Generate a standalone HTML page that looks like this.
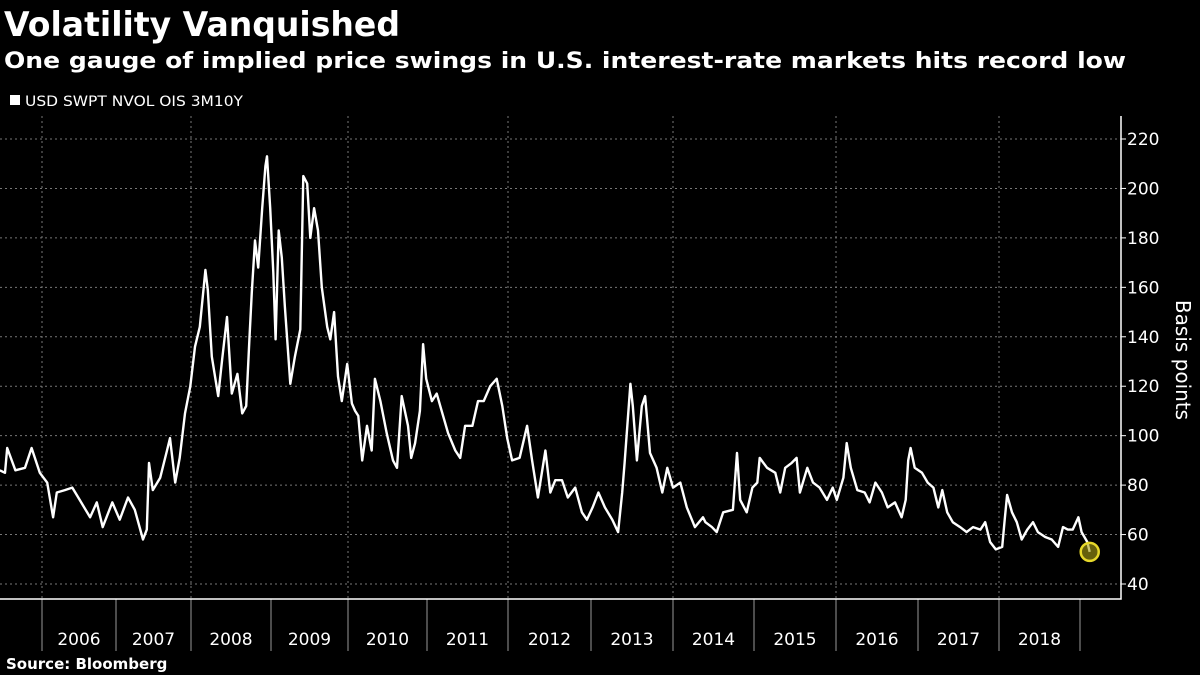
<!DOCTYPE html>
<html><head><meta charset="utf-8"><style>
html,body{margin:0;padding:0;background:#000;}
svg{display:block;}
text{font-family:"DejaVu Sans","Liberation Sans",sans-serif;fill:#fff;}
</style></head><body>
<svg id="chart" width="1200" height="675" viewBox="0 0 1200 675">
<rect x="0" y="0" width="1200" height="675" fill="#000"/>
<text x="4" y="36" font-size="34" font-weight="bold" textLength="396" lengthAdjust="spacingAndGlyphs">Volatility Vanquished</text>
<text x="4" y="68" font-size="22" font-weight="bold" textLength="1122" lengthAdjust="spacingAndGlyphs">One gauge of implied price swings in U.S. interest-rate markets hits record low</text>
<rect x="10" y="95" width="10" height="10" fill="#fff"/>
<text x="25" y="106" font-size="14" textLength="218" lengthAdjust="spacingAndGlyphs">USD SWPT NVOL OIS 3M10Y</text>
<g id="grid"></g>
<g id="axes"></g>
<g id="series"></g>
<text transform="translate(1176,360) rotate(90)" font-size="20" text-anchor="middle">Basis points</text>
<text x="6" y="669" font-size="15" font-weight="bold">Source: Bloomberg</text>
</svg>
<script>
const yearTicks = [2006,2007,2008,2009,2010,2011,2012,2013,2014,2015,2016,2017,2018,2019];
const yearLabels = ["2006","2007","2008","2009","2010","2011","2012","2013","2014","2015","2016","2017","2018"];
const yTicks = [40,60,80,100,120,140,160,180,200,220];
const dates = [2005.43,2005.50,2005.53,2005.64,2005.77,2005.86,2005.97,
2006.07,2006.15,2006.20,2006.31,2006.41,2006.51,2006.65,2006.74,2006.82,2006.95,
2007.05,2007.16,2007.25,2007.36,2007.41,2007.44,2007.49,2007.59,2007.68,2007.72,2007.79,2007.85,2007.92,2007.99,
2008.05,2008.11,2008.18,2008.21,2008.26,2008.34,2008.39,2008.45,2008.51,2008.58,2008.64,2008.69,2008.73,2008.76,2008.80,2008.84,2008.89,2008.93,2008.95,2008.99,
2009.03,2009.06,2009.10,2009.14,2009.18,2009.25,2009.31,2009.38,2009.42,2009.47,2009.51,2009.56,2009.61,2009.66,2009.73,2009.77,2009.82,2009.87,2009.92,2009.99,
2010.05,2010.09,2010.13,2010.18,2010.24,2010.30,2010.34,2010.41,2010.49,2010.57,2010.62,2010.68,2010.76,2010.80,2010.85,2010.91,2010.95,2010.99,
2011.06,2011.12,2011.19,2011.26,2011.35,2011.41,2011.47,2011.56,2011.63,2011.70,2011.78,2011.86,2011.93,2011.99,
2012.05,2012.14,2012.23,2012.29,2012.36,2012.45,2012.51,2012.57,2012.65,2012.72,2012.81,2012.89,2012.95,
2013.02,2013.09,2013.17,2013.26,2013.33,2013.38,2013.41,2013.48,2013.51,2013.56,2013.62,2013.66,2013.72,2013.80,2013.87,2013.93,
2014.00,2014.09,2014.17,2014.27,2014.37,2014.40,2014.48,2014.54,2014.62,2014.74,2014.79,2014.83,2014.91,2014.98,
2015.04,2015.07,2015.16,2015.26,2015.32,2015.38,2015.46,2015.52,2015.56,2015.65,2015.72,2015.80,2015.89,2015.96,
2016.01,2016.09,2016.13,2016.18,2016.26,2016.35,2016.41,2016.48,2016.56,2016.63,2016.72,2016.80,2016.85,2016.88,2016.91,2016.96,
2017.05,2017.12,2017.19,2017.25,2017.30,2017.36,2017.43,2017.52,2017.60,2017.68,2017.77,2017.83,2017.89,2017.96,
2018.04,2018.07,2018.10,2018.16,2018.22,2018.28,2018.35,2018.42,2018.48,2018.57,2018.65,2018.73,2018.79,2018.85,2018.91,2018.98,
2019.02,2019.09,2019.12];
const values = [86,85,95,86,87,95,85,
81,67,77,78,79,74,67,73,63,73,
66,75,70,58,62,89,78,83,94,99,81,91,109,120,
136,144,167,159,132,116,131,148,117,125,109,112,139,158,179,168,192,209,213,192,
166,139,183,172,152,121,132,143,205,202,180,192,183,160,144,139,150,124,114,129,
113,110,108,90,104,94,123,114,101,90,87,116,104,91,97,110,137,123,
114,117,109,101,94,91,104,104,114,114,120,123,112,99,
90,91,104,90,75,94,77,82,82,75,79,69,66,
71,77,71,66,61,77,89,121,112,90,112,116,93,87,77,87,
79,81,71,63,67,65,63,61,69,70,93,74,69,79,
81,91,87,85,77,87,89,91,77,87,81,79,74,79,
74,83,97,87,78,77,73,81,77,71,73,67,74,90,95,87,
85,81,79,71,78,69,65,63,61,63,62,65,57,54,
55,66,76,69,65,58,62,65,61,59,58,55,63,62,62,67,
61,57,53];

const SVGNS="http://www.w3.org/2000/svg";
const tickPx=[42,116,191,271,348,427,508,591,673,754,836,918,999,1080];
function xScale(t){
  if(t<=yearTicks[0]) return tickPx[0]+(t-yearTicks[0])*74;
  for(let i=0;i<yearTicks.length-1;i++){
    if(t<=yearTicks[i+1]) return tickPx[i]+(t-yearTicks[i])/(yearTicks[i+1]-yearTicks[i])*(tickPx[i+1]-tickPx[i]);
  }
  const n=yearTicks.length-1;
  return tickPx[n]+(t-yearTicks[n])*81;
}
function yScale(v){ return 584-(v-40)*(445/180); }
function mk(tag,attrs,parent){const e=document.createElementNS(SVGNS,tag);for(const k in attrs)e.setAttribute(k,attrs[k]);parent.appendChild(e);return e;}
const grid=document.getElementById('grid'), axes=document.getElementById('axes'), series=document.getElementById('series');
const right=1121, base=599;
yTicks.forEach(v=>{
  const y=yScale(v);
  const l=mk('line',{x1:0,x2:right,y1:y,y2:y,stroke:'#777','stroke-width':1,'stroke-dasharray':'2,3'},grid);
  
  
  const tk=mk('line',{x1:right,x2:right+5,y1:y,y2:y,stroke:'#fff','stroke-width':1},axes);
  
  
  const t=mk('text',{x:right+6,y:y+6,'font-size':17},axes);
  t.textContent=String(v);
  
  
});
yearTicks.forEach((yr,i)=>{
  const x=xScale(yr);
  if(i%2===0){
    const g=mk('line',{x1:x,x2:x,y1:116,y2:base,stroke:'#777','stroke-width':1,'stroke-dasharray':'2,3'},grid);
    
    
  }
  const tk=mk('line',{x1:x,x2:x,y1:base,y2:651,stroke:'#999','stroke-width':1},axes);
  
  
});
yearLabels.forEach((lab,i)=>{
  const x=(xScale(yearTicks[i])+xScale(yearTicks[i]+1))/2;
  const t=mk('text',{x:x,y:645,'font-size':17,'text-anchor':'middle'},axes);
  t.textContent=lab;
  
  
});
const ax=mk('path',{d:`M0 ${base} H${right} V116`,fill:'none',stroke:'#fff','stroke-width':1.5},axes);


let d='';
dates.forEach((t,i)=>{d+=(i?'L':'M')+xScale(t).toFixed(1)+' '+yScale(values[i]).toFixed(1);});
const line=mk('path',{d:d,fill:'none',stroke:'#fff','stroke-width':2.4,'stroke-linejoin':'round'},series);


const li=dates.length-1;
const c=mk('circle',{cx:xScale(dates[li]),cy:yScale(values[li]),r:9,fill:'rgba(170,160,20,0.6)',stroke:'#e6d82a','stroke-width':2.5},series);


</script>
</body></html>
